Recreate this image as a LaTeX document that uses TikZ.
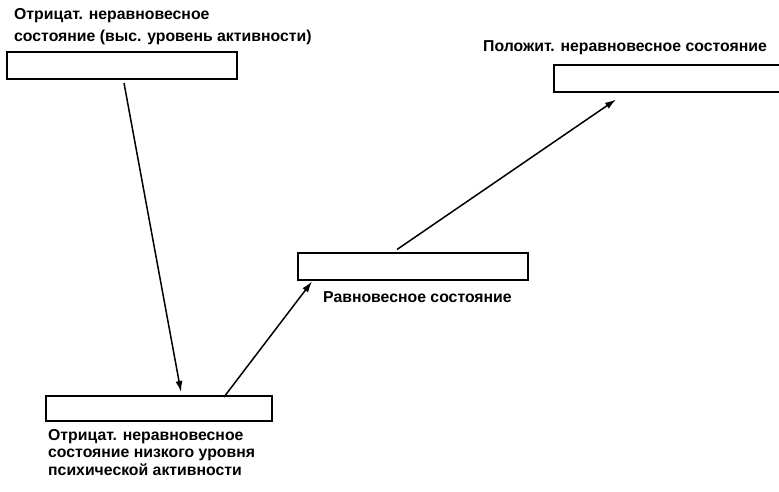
\documentclass[tikz,border=0pt]{standalone}
\usepackage{fontspec}
\setmainfont{Liberation Sans}
\usetikzlibrary{arrows.meta}
\begin{document}
\begin{tikzpicture}[x=1pt,y=-1pt,
  box/.style={draw,line width=2pt,rectangle,inner sep=0pt,minimum width=230pt,minimum height=27pt},
  lbl/.style={anchor=base west,inner sep=0pt,align=left,font=\bfseries\fontsize{15.8}{19}\selectfont},
  arr/.style={line width=1.5pt,-{Latex[length=11pt,width=7pt]}}]
\useasboundingbox (0,0) rectangle (779,492);
\node[box] (A) at (122,65.5) {};
\node[box] (B) at (669,79) {};
\node[box] (C) at (413,266) {};
\node[box,minimum width=226pt,minimum height=25pt] (D) at (159,408.5) {};
\node[lbl] (tA1) at (14,20) {Отрицат. неравновесное};
\node[lbl] (tA2) at (14,42) {состояние (выс. уровень активности)};
\node[lbl] (tB) at (483,52) {Положит. неравновесное состояние};
\node[lbl] (tC) at (323,302) {Равновесное состояние};
\node[lbl] (tD1) at (48,440) {Отрицат. неравновесное};
\node[lbl] (tD2) at (48,457.5) {состояние низкого уровня};
\node[lbl] (tD3) at (48,475) {психической активности};
\draw[arr] ([xshift=118pt,yshift=-3pt]A.south west) -- ([xshift=136pt,yshift=3pt]D.north west);
\draw[arr] ([xshift=179pt,yshift=-2pt]D.north west) -- ([xshift=15pt,yshift=-1pt]C.south west);
\draw[arr] ([xshift=100pt,yshift=2pt]C.north west) -- ([xshift=63pt,yshift=-6pt]B.south west);
\end{tikzpicture}
\end{document}
